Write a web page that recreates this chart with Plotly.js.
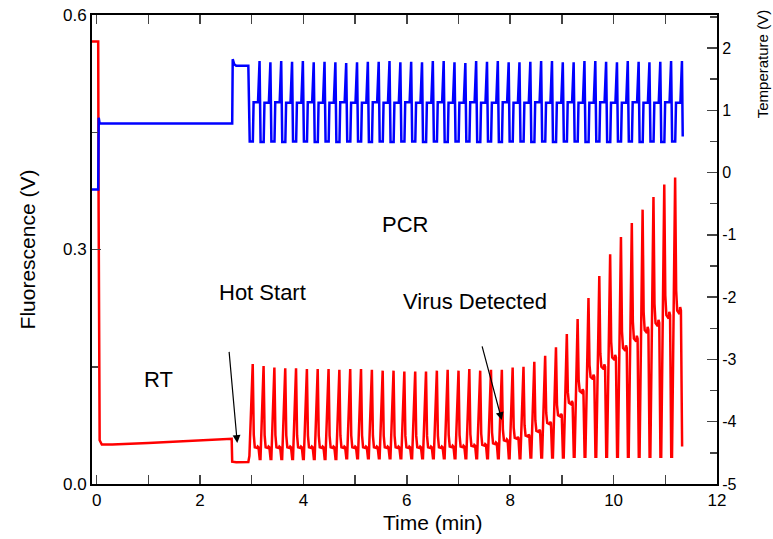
<!DOCTYPE html>
<html>
<head>
<meta charset="utf-8">
<script src="https://cdn.plot.ly/plotly-3.0.1.min.js"></script>
<style>html,body{margin:0;padding:0;background:#fff;}#chart{width:773px;height:539px;}</style>
</head>
<body>
<div id="chart"></div>
<script>
// ---- Data ----
// Time (min) of each PCR cycle's fluorescence peak
const cycleT = [3.019,3.229,3.438,3.648,3.857,4.067,4.276,4.486,4.695,4.905,
                5.114,5.324,5.533,5.743,5.952,6.162,6.371,6.581,6.790,7.000,
                7.209,7.419,7.628,7.838,8.047,8.257,8.466,8.676,8.885,9.095,
                9.304,9.514,9.723,9.933,10.142,10.352,10.561,10.771,10.980,11.190];
// Fluorescence (V) per cycle: peak, shoulder (extension), dip (denaturation)
const redPeak = [0.1535,0.151,0.149,0.148,0.148,0.147,0.147,0.147,0.146,0.147,
                 0.147,0.146,0.145,0.145,0.144,0.144,0.144,0.145,0.146,0.145,
                 0.147,0.145,0.146,0.146,0.149,0.150,0.1565,0.164,0.175,0.192,
                 0.211,0.238,0.266,0.294,0.316,0.334,0.351,0.367,0.383,0.392];
const redShoulder = [0.047,0.047,0.047,0.047,0.047,0.047,0.047,0.047,0.047,0.047,
                     0.047,0.047,0.047,0.047,0.047,0.047,0.047,0.047,0.048,0.048,
                     0.049,0.050,0.052,0.056,0.059,0.062,0.068,0.078,0.088,0.104,
                     0.119,0.137,0.150,0.162,0.174,0.186,0.197,0.206,0.216,0.222];
const redDip = [0.032,0.032,0.032,0.032,0.032,0.032,0.032,0.032,0.033,0.033,
                0.033,0.033,0.033,0.033,0.033,0.033,0.033,0.033,0.033,0.033,
                0.033,0.033,0.033,0.033,0.033,0.034,0.034,0.034,0.034,0.035,
                0.035,0.035,0.035,0.035,0.035,0.035,0.035,0.035,0.035,0.035];
// Temperature (V) per cycle: denaturation spike, extension plateau, annealing trough
const blueSpike = [1.79,1.77,1.79,1.78,1.79,1.77,1.78,1.77,1.76,1.77,
                   1.78,1.78,1.79,1.77,1.78,1.77,1.79,1.79,1.77,1.76,
                   1.79,1.78,1.79,1.77,1.77,1.78,1.79,1.79,1.77,1.77,
                   1.79,1.79,1.78,1.77,1.79,1.78,1.77,1.78,1.79,1.79];
const bluePlateau = [1.13,1.12,1.13,1.12,1.12,1.13,1.12,1.12,1.13,1.12,
                     1.12,1.13,1.12,1.12,1.13,1.12,1.12,1.13,1.12,1.12,
                     1.13,1.12,1.12,1.13,1.12,1.12,1.13,1.12,1.12,1.13,
                     1.12,1.12,1.13,1.12,1.12,1.13,1.12,1.12,1.13,1.12];
const blueTrough = [0.50,0.49,0.50,0.49,0.50,0.50,0.49,0.50,0.49,0.50,
                    0.50,0.49,0.50,0.49,0.50,0.50,0.49,0.50,0.49,0.50,
                    0.50,0.49,0.50,0.49,0.50,0.50,0.49,0.50,0.49,0.50,
                    0.50,0.49,0.50,0.49,0.50,0.50,0.49,0.50,0.49,0.50];
// RT + hot start segment before cycling
const redLeadT = [-0.09,0.030,0.038,0.044,0.058,0.100,0.30,1.0,1.8,2.612,2.622,2.70,2.934,2.955];
const redLead  = [0.566,0.566,0.35,0.08,0.056,0.0505,0.0505,0.0525,0.0555,0.0578,0.0285,0.0278,0.0282,0.036];
const blueLeadT = [-0.09,0.030,0.040,0.055,0.085,2.622,2.632,2.66,2.70,2.934];
const blueLead  = [-0.27,-0.27,0.88,0.80,0.787,0.787,1.82,1.74,1.715,1.715];
// end of run
const redTailT = [11.325];
const redTail  = [0.048];
const blueTailT = [11.337];
const blueTail  = [0.58];
// axis tick labels
const xTicks = [0,2,4,6,8,10,12];
const yTicks = [0.0,0.3,0.6];
const y2TickVals = [-5,-4,-3,-2,-1,0,1,2];
const y2TickText = ['-5','-4','-3','-2','-1','0','1','2'];

// ---- build traces ----
const rx = redLeadT.slice(), ry = redLead.slice();
for (let k = 0; k < cycleT.length; k++) {
  const t = cycleT[k], P = redPeak[k], S = redShoulder[k], D = redDip[k];
  rx.push(t, t+0.008, t+0.02, t+0.04, t+0.085, t+0.097, t+0.112);
  ry.push(P, S+0.5*(P-S), S+0.15*(P-S), S, S*0.98, S*1.02, S);
  if (k < cycleT.length-1) { rx.push(t+0.135, t+0.15); ry.push(D, D); }
}
rx.push(...redTailT); ry.push(...redTail);

const bx = blueLeadT.slice(), by = blueLead.slice();
for (let k = 0; k < cycleT.length; k++) {
  const s = cycleT[k] + 0.132;
  bx.push(s-0.19, s-0.13, s-0.115, s-0.03, s);
  by.push(blueTrough[k], blueTrough[k], bluePlateau[k], bluePlateau[k], blueSpike[k]);
}
bx.push(...blueTailT); by.push(...blueTail);

const traces = [
  {x: bx, y: by, yaxis: 'y2', mode: 'lines', line: {color: '#0000ff', width: 2.5}, hoverinfo: 'skip'},
  {x: rx, y: ry, yaxis: 'y', mode: 'lines', line: {color: '#ff0000', width: 2.5}, hoverinfo: 'skip'}
];

const fontFam = 'Liberation Sans, Arial, sans-serif';
const annFont = {family: fontFam, size: 22, color: '#000'};
const layout = {
  width: 773, height: 539,
  margin: {l: 92, r: 56, t: 15, b: 55},
  paper_bgcolor: '#fff', plot_bgcolor: '#fff',
  showlegend: false,
  font: {family: fontFam, size: 17, color: '#000'},
  xaxis: {
    range: [-0.09, 12], tickvals: xTicks, ticks: 'inside', ticklen: 9, tickwidth: 1.5,
    showline: true, linewidth: 2, linecolor: '#000', mirror: 'allticks', showgrid: false, zeroline: false,
    minor: {tickmode: 'linear', tick0: 0, dtick: 1, ticks: 'inside', ticklen: 5, tickwidth: 1.5},
    tickfont: {size: 17}
  },
  yaxis: {
    range: [0, 0.6], tickvals: yTicks, tickformat: '.1f', ticks: 'inside', ticklen: 9, tickwidth: 1.5,
    showline: true, linewidth: 2, linecolor: '#000', showgrid: false, zeroline: false,
    minor: {tickmode: 'linear', tick0: 0, dtick: 0.15, ticks: 'inside', ticklen: 6, tickwidth: 1.5},
    title: {text: 'Fluorescence (V)', font: {size: 21}, standoff: 22},
    tickfont: {size: 17}
  },
  yaxis2: {
    range: [-5, 2.53], overlaying: 'y', side: 'right', tickvals: y2TickVals, ticktext: y2TickText,
    ticks: 'inside', ticklen: 10, tickwidth: 1.5,
    showline: true, linewidth: 2, linecolor: '#000', showgrid: false, zeroline: false,
    minor: {tickmode: 'linear', tick0: 0, dtick: 0.5, ticks: 'inside', ticklen: 7, tickwidth: 1.5},
    tickfont: {size: 16}
  },
  annotations: [
    {xref: 'paper', yref: 'paper', x: 0.5456, y: -0.083, text: 'Time (min)', showarrow: false,
     xanchor: 'center', yanchor: 'middle', font: {family: fontFam, size: 21, color: '#000'}},
    {xref: 'paper', yref: 'paper', x: 1.072, y: 0.895, text: 'Temperature (V)', textangle: -90,
     showarrow: false, xanchor: 'center', yanchor: 'middle', font: {family: fontFam, size: 15, color: '#000'}},
    {x: 1.188, y: 0.1343, text: 'RT', showarrow: false, font: annFont},
    {x: 3.20, y: 0.2456, text: 'Hot Start', showarrow: false, font: annFont},
    {x: 5.965, y: 0.3326, text: 'PCR', showarrow: false, font: annFont},
    {x: 7.32, y: 0.2341, text: 'Virus Detected', showarrow: false, font: annFont},
    {x: 2.72, y: 0.0525, ax: 2.56, ay: 0.171, axref: 'x', ayref: 'y', text: '', showarrow: true,
     arrowhead: 2, arrowsize: 1.3, arrowwidth: 1.2, arrowcolor: '#000'},
    {x: 7.836, y: 0.0819, ax: 7.449, ay: 0.178, axref: 'x', ayref: 'y', text: '', showarrow: true,
     arrowhead: 2, arrowsize: 1.3, arrowwidth: 1.2, arrowcolor: '#000'}
  ]
};
Plotly.newPlot('chart', traces, layout, {displayModeBar: false, staticPlot: true});
</script>
</body>
</html>
